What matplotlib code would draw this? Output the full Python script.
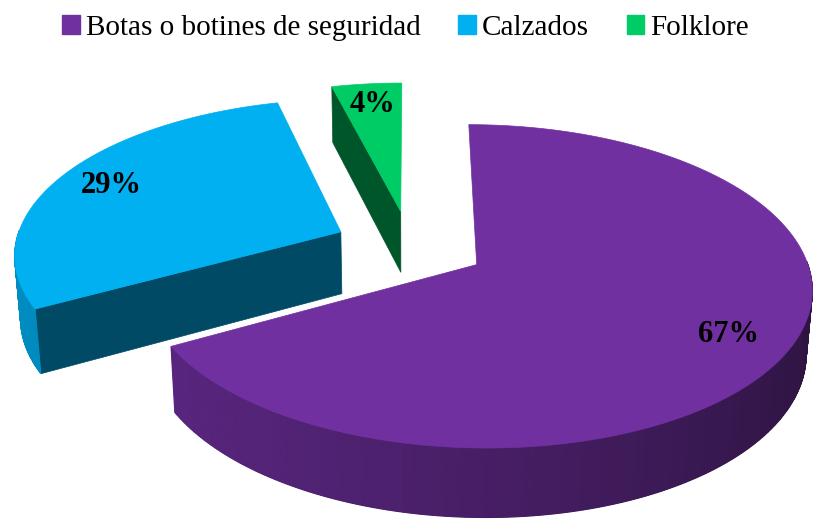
import numpy as np
import matplotlib
matplotlib.use("Agg")
import matplotlib.pyplot as plt
from matplotlib.patches import Polygon, Patch

plt.rcParams["font.family"] = ["Liberation Serif", "DejaVu Serif"]

# data
labels = ["Botas o botines de seguridad", "Calzados", "Folklore"]
values = [67, 29, 4]
colors = ["#7030A0", "#00B0F0", "#00CC66"]

# 3D view setup (pixel space of the 819x520 picture)
phi = np.radians(27.6)
F, D = 2224.0, 6.7
xscale = 0.982
OX, OY = 410.0, 246.0
depth = 0.215
explode = 0.234
label_r = 0.82


def proj(X, Y, Z):
    X, Y, Z = np.asarray(X, float), np.asarray(Y, float), np.asarray(Z, float)
    v = Y * np.sin(phi) + Z * np.cos(phi)
    w = Y * np.cos(phi) - Z * np.sin(phi)
    s = F / (D + w)
    return OX + X * s * xscale, OY - v * s


def shade(c, f):
    rgb = np.array(matplotlib.colors.to_rgb(c))
    return tuple(np.clip(rgb * f, 0, 1))


fig = plt.figure(figsize=(8.19, 5.2), dpi=100)
ax = fig.add_axes([0, 0, 1, 1])
ax.set_xlim(0, 819)
ax.set_ylim(520, 0)
ax.axis("off")

# slices go clockwise from 12 o'clock
total = float(sum(values))
slices = []
start = 90.0
for lab, val, col in zip(labels, values, colors):
    sweep = 360.0 * val / total
    a, b = start - sweep, start
    mid = np.radians((a + b) / 2)
    ox, oy = explode * np.cos(mid), explode * np.sin(mid)
    slices.append((lab, val, col, a, b, mid, ox, oy))
    start -= sweep

# paint far slices first
for lab, val, col, a, b, mid, ox, oy in sorted(slices, key=lambda s: -s[7]):
    # radial faces facing the viewer
    for edge, nrm in ((a, a - 90), (b, b + 90)):
        if np.sin(np.radians(nrm)) < -1e-6:
            t = np.radians(edge)
            X = [ox, ox + np.cos(t), ox + np.cos(t), ox]
            Y = [oy, oy + np.sin(t), oy + np.sin(t), oy]
            Z = [0, 0, -depth, -depth]
            px, py = proj(X, Y, Z)
            ax.add_patch(Polygon(np.c_[px, py], closed=True,
                                 fc=shade(col, 0.42), ec=shade(col, 0.42), lw=0.5))
    # outer wall, front part: a base piece, then thin shaded strips
    th = np.radians(np.linspace(a, b, int((b - a) * 2) + 2))
    front = th[np.sin(th) <= 0.02]
    if len(front) > 1:
        X = np.r_[ox + np.cos(front), ox + np.cos(front[::-1])]
        Y = np.r_[oy + np.sin(front), oy + np.sin(front[::-1])]
        Z = np.r_[np.zeros(len(front)), np.full(len(front), -depth)]
        px, py = proj(X, Y, Z)
        ax.add_patch(Polygon(np.c_[px, py], closed=True, fc=shade(col, 0.6), lw=0))
        for t0, t1 in zip(front[:-1], front[1:]):
            tm = (t0 + t1) / 2
            f = 0.6 + 0.2 * np.cos(tm - np.radians(190))
            X = [ox + np.cos(t0), ox + np.cos(t1), ox + np.cos(t1), ox + np.cos(t0)]
            Y = [oy + np.sin(t0), oy + np.sin(t1), oy + np.sin(t1), oy + np.sin(t0)]
            Z = [0, 0, -depth, -depth]
            px, py = proj(X, Y, Z)
            c = shade(col, f)
            ax.add_patch(Polygon(np.c_[px, py], closed=True, fc=c, ec=c, lw=0.8))
    # top face
    X = np.r_[ox, ox + np.cos(th)]
    Y = np.r_[oy, oy + np.sin(th)]
    px, py = proj(X, Y, np.zeros_like(X))
    ax.add_patch(Polygon(np.c_[px, py], closed=True, fc=col, ec=col, lw=0.5))
    # percentage label
    lx, ly = proj(ox + label_r * np.cos(mid), oy + label_r * np.sin(mid), 0)
    ax.text(lx, ly, f"{val}%", ha="center", va="center", fontsize=22,
            fontweight="bold", color="black")

handles = [Patch(facecolor=c, edgecolor=c) for c in colors]
fig.legend(handles, labels, loc="center", bbox_to_anchor=(0.495, 0.947), ncol=3,
           frameon=False, prop={"size": 21},
           handlelength=0.6, handleheight=0.6, handletextpad=0.2,
           columnspacing=1.3, borderaxespad=0)

fig.savefig("out.png", dpi=100)
